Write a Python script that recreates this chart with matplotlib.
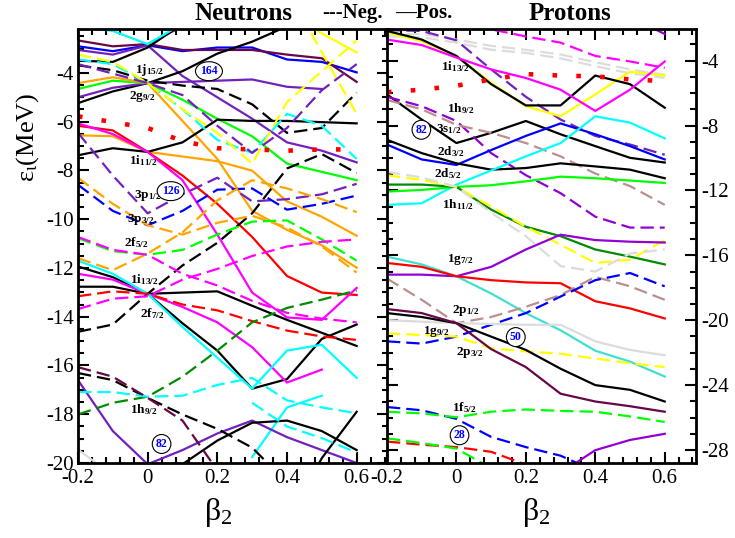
import numpy as np
import matplotlib
matplotlib.use("Agg")
import matplotlib.pyplot as plt
from matplotlib.ticker import MultipleLocator

plt.rcParams.update({
    "font.family": "Liberation Serif",
    "mathtext.fontset": "custom",
    "mathtext.rm": "Liberation Serif",
    "mathtext.it": "Liberation Serif:italic",
    "mathtext.bf": "Liberation Serif:bold",
    "axes.unicode_minus": False,
})

nan = np.nan
BETA = [-0.2, -0.1, 0.0, 0.1, 0.2, 0.3, 0.4, 0.5, 0.6]

# ---------------- neutron levels (MeV) ----------------
n_blue = [-2.91, -3.11, -2.87, -3.11, -2.96, -2.96, -3.45, -3.55, -3.98]
n_maroon = [-2.67, -2.91, -2.82, -3.06, -3.06, -3.06, -3.25, -3.40, -4.37]
n_maroon_up = [nan, nan, -2.82, -2.09, nan, nan, nan, nan, nan]
n_purple_a = [-3.06, -3.25, -2.87, -4.13, -5.00, -5.88, -6.85, -7.19, -7.67]
n_black_a = [-3.50, -3.55, -2.96, -1.99, nan, nan, nan, nan, nan]
n_black_b = [-5.24, -4.76, -4.42, -3.93, -3.21, -2.72, -2.09, nan, nan]
n_purple_b = [-5.00, -4.61, -4.42, -4.37, -4.32, -4.27, -4.57, -4.66, nan]
n_green = [-4.66, -4.32, -4.42, -5.10, -5.88, -6.60, -7.72, -8.06, -8.40]
n_orange_a = [-4.42, -4.18, -4.42, -5.97, -7.53, -9.66, -10.44, -11.07, -11.99]
n_orange_b = [-6.56, -6.60, -7.24, -7.43, -7.62, -8.01, -9.27, -9.90, -10.68]
n_yellow = [nan, nan, nan, nan, nan, nan, -1.60, -2.38, -3.16]
n_cyan = [-2.09, -2.28, -2.82, -1.99, nan, nan, nan, nan, nan]
n_black_c = [-7.38, -7.09, -7.24, -6.85, -5.92, -5.97, -5.97, -6.02, -6.07]
n_red = [-6.17, -6.36, -7.24, -8.21, -9.37, -10.73, -12.33, -13.01, -13.11]
n_magenta_a = [-6.07, -6.51, -7.24, -8.40, -10.63, -13.01, -14.03, -14.13, -12.82]
n_black_f = [-11.94, -12.38, -13.06, -14.27, -15.39, -16.95, -16.56, -14.91, -14.32]
n_black_g = [-12.77, -12.77, -13.06, -13.01, -12.96, -13.55, -14.13, -14.66, -15.20]
n_magenta_b = [-12.24, -12.48, -13.06, -13.60, -14.23, -15.25, -16.70, -16.17, nan]
n_cyan_a = [-11.70, -12.24, -13.06, -14.42, -15.68, -16.95, -15.39, -15.15, -16.51]
n_cyan_b = [nan, nan, nan, nan, nan, -19.76, -17.72, -17.24, nan]
n_purple_c = [-16.60, -18.69, -20.05, -19.47, -18.79, -18.26, -18.94, -19.47, -20.00]
n_black_d = [nan, nan, nan, -20.05, -19.08, -18.35, -18.26, -18.69, -19.47]
n_black_e = [nan, nan, nan, nan, nan, nan, -22.50, -19.80, -17.90]
n_gray = [-19.45, -20.50, nan, nan, nan, nan, nan, nan, nan]

n_black_dash_a = [-3.69, -3.89, -4.32, -4.52, -4.66, -5.29, -6.46, -6.26, -4.81]
n_black_dash_b = [-14.62, -14.32, -13.06, -11.90, -10.97, -9.76, -7.92, -7.33, -8.11]
n_black_dash_c = [-16.31, -16.60, -17.33, -18.01, -18.60, -19.37, -20.80, nan, nan]
n_cyan_dash_a = [-3.45, -3.64, -4.42, -5.49, -6.75, -7.28, -5.68, -6.17, -7.53]
n_yellow_dash_a = [-3.25, -3.55, -4.42, -5.49, -6.46, -7.72, -5.20, -3.93, -2.67]
n_yellow_dash_b = [nan, nan, nan, nan, nan, nan, -0.54, -3.16, -5.68]
n_purple_dash_a = [-6.46, -8.21, -9.76, -8.98, -8.30, -9.27, -9.18, -8.98, -8.55]
n_purple_dash_b = [-3.64, -4.03, -4.42, -4.91, -6.17, -7.28, -6.26, -4.71, -3.64]
n_blue_dash = [-8.59, -9.66, -10.25, -9.66, -8.79, -8.74, -9.61, -9.37, -9.03]
n_orange_dash_a = [-11.60, -12.09, -11.41, -10.54, -9.23, -8.40, -8.74, -9.18, -9.71]
n_orange_dash_b = [-8.30, -9.37, -10.25, -10.63, -10.15, -9.86, -10.34, -11.12, -12.19]
n_green_dash = [-10.78, -11.31, -11.46, -11.26, -10.63, -10.10, -10.05, -10.83, -11.70]
n_magenta_dash_a = [-10.73, -11.26, -11.46, -12.24, -12.72, -13.35, -13.84, -14.08, -14.23]
n_magenta_dash_b = [-13.69, -13.26, -13.16, -12.48, -12.04, -11.51, -11.12, -10.93, -10.83]
n_red_dash = [-13.16, -12.96, -13.06, -13.50, -13.74, -14.18, -14.57, -14.81, -14.95]
n_dkgreen_dash = [-18.01, -17.53, -17.28, -16.46, -15.39, -14.23, -13.64, -13.30, -12.92]
n_cyan_dash_b = [-17.09, -17.09, -17.28, -17.24, -16.80, -16.51, -17.43, -17.72, -17.96]
n_cyan_dash_c = [nan, nan, nan, nan, nan, -17.53, -18.50, -18.98, -19.57]
n_maroon_dash = [-16.07, -16.46, -17.33, -18.26, -20.30, nan, nan, nan, nan]
n_red_dot = [-5.78, -6.02, -6.26, -6.80, -7.09, -7.14, -7.19, -7.14, -7.14]

# ---------------- proton levels (MeV) ----------------
p_yellow = [-2.27, -2.80, -3.71, -5.36, -6.81, -7.43, -6.08, -4.68, -4.92]
p_black_a = [-2.17, -2.70, -3.71, -5.45, -6.76, -6.76, -4.92, -5.45, -6.90]
p_magenta = [-2.70, -3.04, -3.81, -4.54, -5.07, -5.79, -7.10, -5.79, -4.05]
p_magenta_dash = [nan, nan, -1.69, -2.07, -2.51, -2.89, -3.71, -4.05, -4.44]
p_gray_dash_a = [-2.51, -2.56, -2.89, -3.33, -3.52, -3.86, -4.34, -4.78, -5.07]
p_gray_dash_b = [-2.36, -2.36, -2.70, -3.09, -3.33, -3.62, -4.10, -4.54, -4.87]
p_purple_dash_a = [-2.12, -2.17, -2.75, -4.54, -6.23, -7.63, -8.64, -9.17, -9.80]
p_purple_top = [nan, nan, nan, nan, nan, nan, nan, -1.30, -2.36]
p_black_b = [-6.08, -7.63, -9.08, -8.45, -7.72, -8.54, -9.27, -9.99, -10.28]
p_purple_dash_b = [-6.23, -6.81, -7.72, -9.70, -11.06, -12.17, -13.62, -14.29, -14.29]
p_brown_dash_a = [-6.42, -7.00, -7.96, -8.45, -9.08, -9.90, -10.96, -11.73, -12.89]
p_blue = [-9.17, -10.09, -10.43, -9.51, -8.64, -7.87, -8.54, -9.27, -10.09]
p_black_c = [-8.88, -9.70, -10.33, -10.72, -10.62, -10.33, -10.52, -10.72, -11.25]
p_cyan = [-12.89, -12.79, -11.64, -10.77, -9.90, -9.08, -7.43, -7.82, -8.79]
p_green = [-12.07, -11.97, -11.78, -11.68, -11.44, -11.15, -11.25, -11.39, -11.54]
p_dkgreen = [-11.64, -11.64, -11.78, -13.18, -14.24, -14.82, -15.64, -16.08, -16.56]
p_yellow_dash_a = [-11.06, -11.35, -11.78, -12.99, -14.24, -15.35, -16.47, -16.27, -15.06]
p_gray_dash_c = [-10.86, -11.20, -11.78, -13.37, -14.82, -16.66, -17.00, -15.89, -15.64]
p_purple = [-17.19, -17.19, -17.29, -16.71, -15.64, -14.73, -15.06, -15.16, -15.21]
p_turq = [-16.08, -16.56, -17.29, -18.35, -19.56, -20.62, -21.88, -22.55, -23.47]
p_red = [-16.47, -16.71, -17.29, -17.53, -17.67, -17.72, -18.83, -19.27, -19.89]
p_brown_dash_b = [-17.43, -18.74, -20.18, -19.80, -19.17, -18.45, -17.33, -17.91, -18.74]
p_blue_dash_a = [-21.30, -21.44, -21.01, -20.28, -19.56, -18.54, -17.53, -17.09, -17.91]
p_gray = [-19.99, -20.09, -20.18, -20.23, -20.28, -20.28, -21.30, -21.83, -22.16]
p_yellow_dash_b = [-20.81, -20.91, -21.01, -21.73, -21.92, -22.07, -22.36, -22.65, -22.89]
p_black_d = [-19.56, -19.80, -20.18, -21.01, -21.83, -22.99, -24.00, -24.29, -25.01]
p_maroon = [-19.31, -19.56, -20.18, -21.78, -22.89, -24.53, -25.01, -25.30, -25.64]
p_blue_dash_b = [-25.35, -25.55, -26.08, -27.19, -27.82, -28.35, -29.30, nan, nan]
p_green_dash_a = [-25.64, -25.74, -25.98, -25.64, -25.50, -25.59, -25.64, -25.93, -26.27]
p_red_dash = [-27.48, -27.67, -27.82, -28.11, -28.90, nan, nan, nan, nan]
p_green_dash_b = [-27.28, -27.57, -27.91, -29.12, nan, nan, nan, nan, nan]
p_purple_b = [nan, nan, nan, nan, nan, -29.41, -28.01, -27.38, -27.00]
p_red_dot = [-5.94, -5.79, -5.55, -5.16, -4.83, -4.92, -4.97, -5.16, -5.26]

# orbital labels: (text, beta, energy)
n_labels = [
    ("1j$_{\\mathbf{15/2}}$", 0.006, -3.89), ("2g$_{\\mathbf{9/2}}$", -0.014, -4.96),
    ("1i$_{\\mathbf{11/2}}$", -0.014, -7.58), ("3p$_{\\mathbf{1/2}}$", 0.0, -9.02),
    ("3p$_{\\mathbf{3/2}}$", -0.02, -10.0), ("2f$_{\\mathbf{5/2}}$", -0.032, -10.98),
    ("1i$_{\\mathbf{13/2}}$", -0.009, -12.46), ("2f$_{\\mathbf{7/2}}$", 0.012, -13.89),
    ("1h$_{\\mathbf{9/2}}$", -0.012, -17.83),
]
n_magic = [("164", 0.176, -3.93), ("126", 0.066, -8.85), ("82", 0.04, -19.22)]
p_labels = [
    ("1i$_{\\mathbf{13/2}}$", -0.003, -4.37), ("1h$_{\\mathbf{9/2}}$", 0.012, -6.96),
    ("3s$_{\\mathbf{1/2}}$", -0.023, -8.2), ("2d$_{\\mathbf{3/2}}$", -0.017, -9.62),
    ("2d$_{\\mathbf{5/2}}$", -0.026, -10.98), ("1h$_{\\mathbf{11/2}}$", 0.006, -12.89),
    ("1g$_{\\mathbf{7/2}}$", 0.012, -16.28), ("2p$_{\\mathbf{1/2}}$", 0.026, -19.37),
    ("1g$_{\\mathbf{9/2}}$", -0.058, -20.67), ("2p$_{\\mathbf{3/2}}$", 0.038, -21.96),
    ("1f$_{\\mathbf{5/2}}$", 0.023, -25.36),
]
p_magic = [("82", -0.101, -8.26), ("50", 0.171, -21.04), ("28", 0.009, -27.09)]

XTICKS = [-0.2, 0.0, 0.2, 0.4, 0.6]
XTICKLABELS = ["-0.2", "0", "0.2", "0.4", "0.6"]

BLUE, MAROON, PURPLE, VIOLET = "#0000ff", "#670748", "#7221bc", "#9400d3"
GREEN, DKGREEN, ORANGE, CYAN = "#00ff00", "#008b00", "#ffa500", "#00ffff"
TURQ, MAGENTA, YELLOW, RED = "#40e0d0", "#ff00ff", "#ffff00", "#ff0000"
LTGRAY, BROWN, BLACK = "#dcdcdc", "#bc8f8f", "#000000"
S, D = "-", (0, (6, 2.7))

neutron_lines = [
    (n_blue, BLUE, S), (n_maroon, MAROON, S), (n_maroon_up, MAROON, S),
    (n_purple_a, PURPLE, S), (n_black_a, BLACK, S), (n_black_b, BLACK, S),
    (n_purple_b, PURPLE, S), (n_green, GREEN, S), (n_orange_a, ORANGE, S),
    (n_orange_b, ORANGE, S), (n_yellow, YELLOW, S), (n_cyan, CYAN, S),
    (n_black_c, BLACK, S), (n_red, RED, S), (n_magenta_a, MAGENTA, S),
    (n_black_f, BLACK, S), (n_black_g, BLACK, S), (n_magenta_b, MAGENTA, S),
    (n_cyan_a, CYAN, S), (n_cyan_b, CYAN, S), (n_purple_c, PURPLE, S),
    (n_black_d, BLACK, S), (n_black_e, BLACK, S), (n_gray, LTGRAY, S),
    (n_black_dash_a, BLACK, D), (n_black_dash_b, BLACK, D), (n_black_dash_c, BLACK, D),
    (n_cyan_dash_a, CYAN, D), (n_yellow_dash_a, YELLOW, D), (n_yellow_dash_b, YELLOW, D),
    (n_purple_dash_a, PURPLE, D), (n_purple_dash_b, PURPLE, D), (n_blue_dash, BLUE, D),
    (n_orange_dash_a, ORANGE, D), (n_orange_dash_b, ORANGE, D), (n_green_dash, GREEN, D),
    (n_magenta_dash_a, MAGENTA, D), (n_magenta_dash_b, MAGENTA, D), (n_red_dash, RED, D),
    (n_dkgreen_dash, DKGREEN, D), (n_cyan_dash_b, CYAN, D), (n_cyan_dash_c, CYAN, D),
    (n_maroon_dash, MAROON, D),
]
proton_lines = [
    (p_gray_dash_a, LTGRAY, D), (p_gray_dash_b, LTGRAY, D), (p_magenta_dash, MAGENTA, D),
    (p_purple_dash_a, PURPLE, D), (p_purple_top, VIOLET, S), (p_yellow, YELLOW, S),
    (p_black_a, BLACK, S), (p_magenta, MAGENTA, S), (p_black_b, BLACK, S),
    (p_purple_dash_b, VIOLET, D), (p_brown_dash_a, BROWN, D), (p_blue, BLUE, S),
    (p_black_c, BLACK, S), (p_cyan, CYAN, S), (p_green, GREEN, S), (p_dkgreen, DKGREEN, S),
    (p_yellow_dash_a, YELLOW, D), (p_gray_dash_c, LTGRAY, D), (p_purple, VIOLET, S),
    (p_turq, TURQ, S), (p_red, RED, S), (p_brown_dash_b, BROWN, D), (p_blue_dash_a, BLUE, D),
    (p_gray, LTGRAY, S), (p_yellow_dash_b, YELLOW, D), (p_black_d, BLACK, S),
    (p_maroon, MAROON, S), (p_blue_dash_b, BLUE, D), (p_green_dash_a, GREEN, D),
    (p_red_dash, RED, D), (p_green_dash_b, GREEN, D), (p_purple_b, VIOLET, S),
]


def draw_panel(ax, lines, red_dot, labels, magic, ylim, ymajor, yminor):
    for values, color, style in lines:
        ax.plot(BETA, values, color=color, ls=style, lw=1.6)
    ax.plot(BETA, red_dot, color=RED, ls=(0, (1, 4.2)), lw=3.3)
    for text, x, y in labels:
        ax.text(x, y, text, ha="center", va="center", fontsize=9.5, fontweight="bold")
    for text, x, y in magic:
        ax.text(x, y, text, ha="center", va="center", fontsize=8.5, fontweight="bold",
                color=BLUE, bbox=dict(boxstyle="ellipse,pad=0.06", fc="white", ec="black", lw=0.8))
    ax.set_xlim(-0.2, 0.69)
    ax.set_ylim(*ylim)
    ax.set_xticks(XTICKS)
    ax.set_xticklabels(XTICKLABELS)
    ax.xaxis.set_minor_locator(MultipleLocator(0.04))
    ax.yaxis.set_major_locator(MultipleLocator(ymajor))
    ax.yaxis.set_minor_locator(MultipleLocator(yminor))
    ax.tick_params(which="both", direction="in", top=True, right=True, left=True,
                   bottom=True, width=1.5, labelsize=15)
    ax.tick_params(which="major", length=8)
    ax.tick_params(which="minor", length=4.5)
    ax.tick_params(axis="x", pad=4)
    for sp in ax.spines.values():
        sp.set_linewidth(2)


fig = plt.figure(figsize=(7.35, 5.38), dpi=100)
ax_n = fig.add_axes([0.1061, 0.1394, 0.4218, 0.8067])
ax_p = fig.add_axes([0.5265, 0.1394, 0.4204, 0.8067])

draw_panel(ax_n, neutron_lines, n_red_dot, n_labels, n_magic, (-20, -2.2), 2, 0.5)
draw_panel(ax_p, proton_lines, p_red_dot, p_labels, p_magic, (-28.8, -2.05), 4, 1)
ax_n.tick_params(axis="y", pad=3)
ax_p.tick_params(axis="y", labelleft=False, labelright=True, pad=4)

fig.text(0.331, 0.975, "Neutrons", ha="center", va="center", fontsize=18, fontweight="bold")
fig.text(0.479, 0.975, "---Neg.", ha="center", va="center", fontsize=15, fontweight="bold")
fig.text(0.576, 0.975, "\u2014Pos.", ha="center", va="center", fontsize=15, fontweight="bold")
fig.text(0.776, 0.975, "Protons", ha="center", va="center", fontsize=18, fontweight="bold")
fig.text(0.2966, 0.048, "$\\mathrm{\u03b2_2}$", ha="center", va="center", fontsize=23)
fig.text(0.729, 0.048, "$\\mathrm{\u03b2_2}$", ha="center", va="center", fontsize=23)
fig.text(0.037, 0.745, "$\\mathrm{\u03b5_\u03b9}$(MeV)", ha="center", va="center",
         fontsize=19, rotation=90)

fig.savefig("out.png", dpi=100)
